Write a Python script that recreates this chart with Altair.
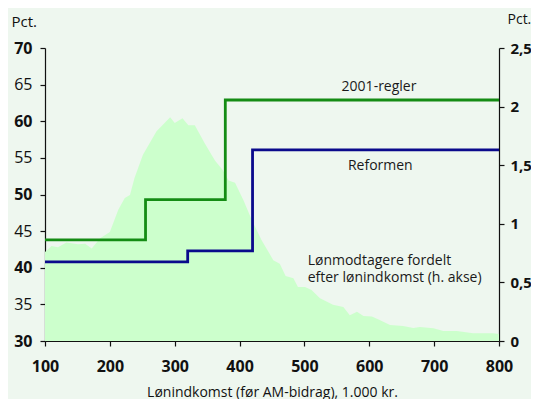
import altair as alt
import pandas as pd

# Distribution of wage earners (right axis, pct.)
dist_income = [100, 110, 120, 133, 151, 162, 172, 185, 200, 213, 223, 231, 238, 251,
               272, 293, 300, 312, 321, 331, 346, 362, 374, 383, 393, 406, 419, 434,
               452, 462, 471, 483, 490, 501, 511, 524, 544, 560, 570, 581, 591, 604,
               616, 632, 652, 668, 678, 699, 714, 735, 760, 791, 800]
dist_share = [0.76, 0.81, 0.80, 0.84, 0.825, 0.83, 0.79, 0.876, 0.93, 1.12, 1.22, 1.245, 1.39, 1.59,
              1.79, 1.91, 1.86, 1.90, 1.84, 1.84, 1.69, 1.54, 1.46, 1.37, 1.35, 1.20, 1.03, 0.86,
              0.69, 0.66, 0.555, 0.535, 0.46, 0.46, 0.435, 0.364, 0.31, 0.29, 0.22, 0.25, 0.213, 0.21,
              0.18, 0.137, 0.128, 0.11, 0.12, 0.108, 0.085, 0.085, 0.066, 0.066, 0.06]

# Marginal tax rates (left axis, pct.)
regler2001_income = [100, 255, 378, 800]
regler2001_rate = [43.8, 49.3, 62.9, 62.9]
reform_income = [100, 320, 420, 800]
reform_rate = [40.8, 42.3, 56.1, 56.1]

# Annotations
label_text = ["2001-regler", "Reformen"]
label_x = [615, 617]
label_y = [64.1, 53.3]
note_text = ["Lønmodtagere fordelt\nefter lønindkomst (h. akse)"]
note_x = [505]
note_y = [40.4]

FONT = "Open Sans"

dist_df = pd.DataFrame({"inc": dist_income, "share": dist_share})
lines_df = pd.concat([
    pd.DataFrame({"inc": regler2001_income, "rate": regler2001_rate, "serie": "2001-regler"}),
    pd.DataFrame({"inc": reform_income, "rate": reform_rate, "serie": "Reformen"}),
])
labels_df = pd.DataFrame({"t": label_text, "inc": label_x, "rate": label_y})
note_df = pd.DataFrame({"t": note_text, "inc": note_x, "rate": note_y})

xscale = alt.Scale(domain=[100, 800], nice=False, zero=False)
xaxis = alt.Axis(values=list(range(100, 801, 100)), title="Lønindkomst (før AM-bidrag), 1.000 kr.",
                 labelFontWeight="bold", titleFontWeight="normal", titleFontSize=14,
                 titlePadding=11, labelPadding=12, labelOverlap=False, labelFlush=False)
lscale = alt.Scale(domain=[30, 70], nice=False, zero=False)
rscale = alt.Scale(domain=[0, 2.5], nice=False, zero=False)
laxis = alt.Axis(orient="left", values=[30, 35, 40, 45, 50, 55, 60, 65, 70],
                 labelFontWeight={"condition": {"test": "datum.value % 10 === 0", "value": "bold"},
                                  "value": "normal"},
                 labelPadding=8, labelOverlap=False, labelFlush=False,
                 title="Pct.", titleAngle=0, titleX=-34, titleY=-22,
                 titleAlign="left", titleBaseline="alphabetic",
                 titleFontWeight="normal", titleFontSize=15)

area = alt.Chart(dist_df).mark_area(color="#ccffcc", opacity=1, interpolate="linear").encode(
    x=alt.X("inc:Q", scale=xscale, axis=xaxis),
    y=alt.Y("share:Q", scale=rscale,
            axis=alt.Axis(orient="right", values=[0, 0.5, 1, 1.5, 2, 2.5],
                          labelExpr="replace(toString(datum.value), '.', ',')",
                          labelFontWeight="bold", labelPadding=6, labelOverlap=False,
                          labelFlush=False, labelFontSize=15,
                          title="Pct.", titleAngle=0, titleX=8, titleY=-25,
                          titleAlign="left", titleBaseline="alphabetic",
                          titleFontWeight="normal", titleFontSize=14)),
)

lines = alt.Chart(lines_df).mark_line(interpolate="step-after", strokeWidth=2.8).encode(
    x=alt.X("inc:Q", scale=xscale, axis=xaxis),
    y=alt.Y("rate:Q", scale=lscale, axis=laxis),
    color=alt.Color("serie:N", scale=alt.Scale(domain=["2001-regler", "Reformen"],
                                               range=["#148c14", "#0a0a8c"]), legend=None),
    detail="serie:N",
)

labels = alt.Chart(labels_df).mark_text(font=FONT, fontSize=14, color="#1a1a1a",
                                        align="center", baseline="alphabetic").encode(
    x=alt.X("inc:Q", scale=xscale, axis=xaxis),
    y=alt.Y("rate:Q", scale=lscale, axis=laxis),
    text="t:N",
)

notes = alt.Chart(note_df).mark_text(font=FONT, fontSize=14, color="#1a1a1a",
                                     align="left", baseline="alphabetic",
                                     lineBreak="\n", lineHeight=17).encode(
    x=alt.X("inc:Q", scale=xscale, axis=xaxis),
    y=alt.Y("rate:Q", scale=lscale, axis=laxis),
    text="t:N",
)

left_layer = alt.layer(lines, labels, notes)

chart = alt.layer(area, left_layer).resolve_scale(y="independent").properties(
    width=454, height=293,
    autosize=alt.AutoSizeParams(type="none"),
    padding={"left": 37, "top": 40, "right": 32, "bottom": 58},
    background="#eef7ef",
).configure_view(stroke=None).configure_axis(
    grid=False, labelFont=FONT, titleFont=FONT, labelFontSize=16, labelColor="#111111",
    titleColor="#111111", domainColor="#111111", tickColor="#111111", tickSize=5,
    domainWidth=1.2, tickWidth=1.2, labelFlush=False,
)

chart.save("out.html", embed_options={"renderer": "svg", "actions": False})
